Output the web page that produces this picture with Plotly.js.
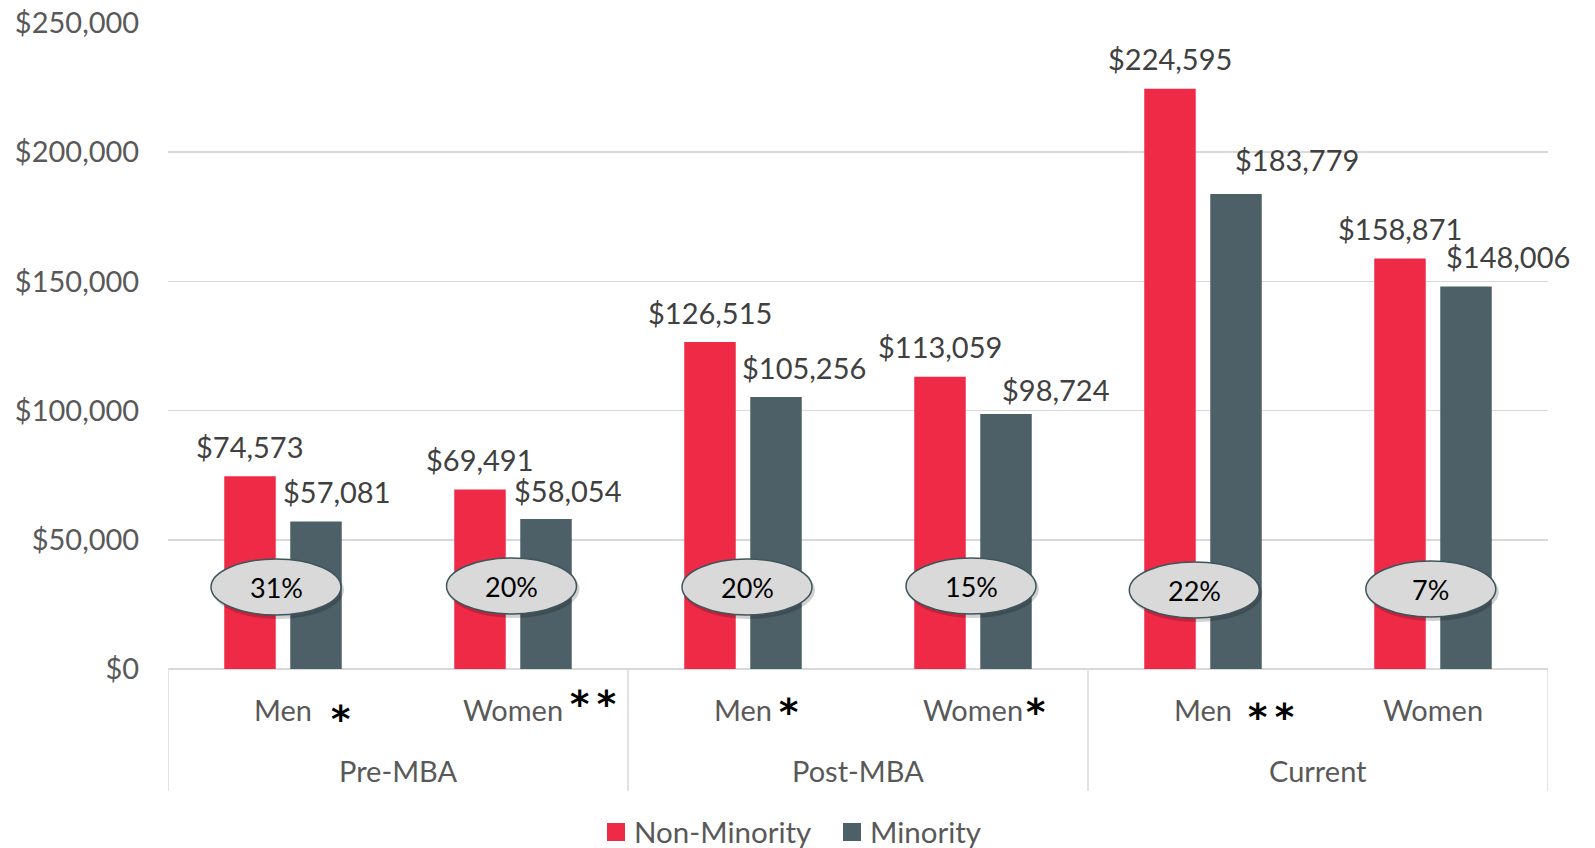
<!DOCTYPE html>
<html><head><meta charset="utf-8">
<script src="https://cdn.plot.ly/plotly-3.0.1.min.js"></script>
<style>html,body{margin:0;padding:0;background:#fff;} #chart{width:1595px;height:848px;}</style>
</head><body><div id="chart"></div>
<script>
// ---- data ----
const stageOfBar = ["Pre-MBA","Pre-MBA","Post-MBA","Post-MBA","Current","Current"];
const genderOfBar = ["Men","Women","Men","Women","Men","Women"];
const stages = ["Pre-MBA","Post-MBA","Current"];
const nonMinority = [74573, 69491, 126515, 113059, 224595, 158871];
const minority = [57081, 58054, 105256, 98724, 183779, 148006];
const gapLabels = ["31%","20%","20%","15%","22%","7%"];
const significance = ["*","**","*","*","**",""];
const yTickVals = [0, 50000, 100000, 150000, 200000, 250000];
const yTickText = ["$0","$50,000","$100,000","$150,000","$200,000","$250,000"];
const seriesNames = ["Non-Minority","Minority"];

// ---- styling / label nudges (pixels) ----
const RED = "#EE2A47", SLATE = "#4E6067";
const seriesColors = [RED, SLATE];
const FONT = "Lato, 'Open Sans', sans-serif";
const FS = 29;
const minorityNudgeX = [21, 22, 28, 50, 61, 42];
const minorityNudgeY = [0, -2, 0, -6, 5, 0];
const ellipseNudgeX = [-7, -1.5, 4, -2, -8.7, -2.2];
const ellipseCenterPx = [587, 586, 587, 586, 590, 589];
const starNudgeX = [57, 80, 45, 62, 68, 0];
const starCenterPx = [714, 699, 707, 707, 713, 0];
const legendSwatchLeftPx = [607, 843];
const PLOT_LEFT = 168, PLOT_RIGHT = 1548, PLOT_TOP = 23, PLOT_BOTTOM = 669;
const toPaper = py => (PLOT_BOTTOM - py) / (PLOT_BOTTOM - PLOT_TOP);
const toPaperX = px => (px - PLOT_LEFT) / (PLOT_RIGHT - PLOT_LEFT);

const idx = genderOfBar.map((_, i) => i);
const BARGAP = 0.426, BARGROUPGAP = 0.22;
const barOff = (1 - BARGAP) / 4;

const traces = [
  {type: "bar", name: seriesNames[0], x: idx, y: nonMinority, marker: {color: seriesColors[0]}, hoverinfo: "none"},
  {type: "bar", name: seriesNames[1], x: idx, y: minority, marker: {color: seriesColors[1]}, hoverinfo: "none"}
];

const fmt = v => "$" + v.toLocaleString("en-US");
const annotations = [];
const shapes = [];

idx.forEach(i => {
  annotations.push({x: i - barOff, y: nonMinority[i], xref: "x", yref: "y", text: fmt(nonMinority[i]),
    showarrow: false, yanchor: "middle", yshift: 30, font: {family: FONT, size: FS, color: "#404040"}});
  annotations.push({x: i + barOff, y: minority[i], xref: "x", yref: "y", text: fmt(minority[i]),
    showarrow: false, yanchor: "middle", yshift: 30 + minorityNudgeY[i], xshift: minorityNudgeX[i],
    font: {family: FONT, size: FS, color: "#404040"}});
  const yc = toPaper(ellipseCenterPx[i]);
  shapes.push({type: "circle", xref: "x", yref: "paper", xsizemode: "pixel", ysizemode: "pixel",
    xanchor: i, yanchor: yc, x0: ellipseNudgeX[i] - 64, x1: ellipseNudgeX[i] + 68, y0: -32, y1: 26,
    fillcolor: "rgba(0,0,0,0.18)", line: {width: 0}, layer: "above"});
  shapes.push({type: "circle", xref: "x", yref: "paper", xsizemode: "pixel", ysizemode: "pixel",
    xanchor: i, yanchor: yc, x0: ellipseNudgeX[i] - 65, x1: ellipseNudgeX[i] + 65, y0: -28, y1: 28,
    fillcolor: "#D9D9D9", line: {color: "#3F555C", width: 1.5}, layer: "above"});
  annotations.push({x: i, y: yc, xref: "x", yref: "paper", xshift: ellipseNudgeX[i], text: gapLabels[i],
    showarrow: false, yanchor: "middle", font: {family: FONT, size: 27, color: "#000"}});
  if (significance[i]) {
    annotations.push({x: i, y: toPaper(starCenterPx[i]), xref: "x", yref: "paper", xshift: starNudgeX[i],
      text: significance[i].split("").join("\u2009"), showarrow: false, yanchor: "middle", yshift: -5,
      font: {family: "'DejaVu Sans', sans-serif", size: 37, color: "#000", weight: "bold"}});
  }
});

// group labels and dividers
const boundaries = [-0.5];
stages.forEach(s => {
  const members = idx.filter(i => stageOfBar[i] === s);
  const center = members.reduce((a, b) => a + b, 0) / members.length;
  annotations.push({x: center, y: toPaper(770), xref: "x", yref: "paper", text: s, showarrow: false,
    yanchor: "middle", font: {family: FONT, size: FS, color: "#595959"}});
  boundaries.push(Math.max(...members) + 0.5);
});
boundaries.forEach(b => shapes.push({type: "line", xref: "x", yref: "paper", x0: b, x1: b,
  y0: 0, y1: toPaper(791), line: {color: "#D9D9D9", width: 1.5}, layer: "below"}));

// legend (drawn)
seriesNames.forEach((name, k) => {
  const left = legendSwatchLeftPx[k];
  shapes.push({type: "rect", xref: "paper", yref: "paper", x0: toPaperX(left), x1: toPaperX(left + 18),
    y0: toPaper(841), y1: toPaper(823), fillcolor: seriesColors[k], line: {width: 0}});
  annotations.push({x: toPaperX(left + 25), y: toPaper(831), xref: "paper", yref: "paper", text: name,
    xanchor: "left", yanchor: "middle", showarrow: false, font: {family: FONT, size: 29.5, color: "#595959"}});
});

const layout = {
  width: 1595, height: 848,
  margin: {l: PLOT_LEFT, r: 1595 - PLOT_RIGHT, t: PLOT_TOP, b: 848 - PLOT_BOTTOM, pad: 0},
  paper_bgcolor: "#fff", plot_bgcolor: "#fff",
  barmode: "group", bargap: BARGAP, bargroupgap: BARGROUPGAP,
  font: {family: FONT, color: "#595959", size: FS},
  xaxis: {range: [-0.5, 5.5], tickvals: idx, ticktext: genderOfBar, showgrid: false, zeroline: false,
    showline: false, ticks: "outside", ticklen: 16, tickcolor: "rgba(0,0,0,0)",
    tickfont: {family: FONT, size: FS, color: "#595959"}, fixedrange: true},
  yaxis: {range: [0, 250000], tickvals: yTickVals, ticktext: yTickText, showgrid: true, gridcolor: "#D9D9D9",
    gridwidth: 1.5, zeroline: true, zerolinecolor: "#D9D9D9", zerolinewidth: 1.5, showline: false,
    ticks: "outside", ticklen: 22, tickcolor: "rgba(0,0,0,0)",
    tickfont: {family: FONT, size: FS, color: "#595959"}, fixedrange: true},
  showlegend: false,
  annotations, shapes, hovermode: false
};
Plotly.newPlot("chart", traces, layout, {displayModeBar: false, staticPlot: true});
</script></body></html>
